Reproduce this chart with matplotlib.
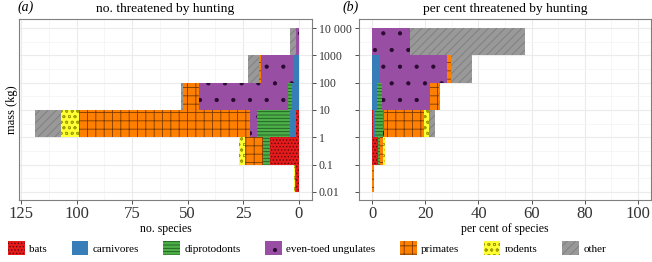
import numpy as np
import matplotlib
matplotlib.use("Agg")
import matplotlib.pyplot as plt
from matplotlib.patches import Patch

plt.rcParams['font.family'] = ['Liberation Serif', 'DejaVu Serif']
plt.rcParams['hatch.linewidth'] = 0.6

# mass bins, lower edge as log10(kg)
bins = [-2, -1, 0, 1, 2, 3]
mass_ticks = [-2, -1, 0, 1, 2, 3, 4]
mass_labels = ["0.01", "0.1", "1", "10", "100", "1000", "10 000"]

groups = ["bats", "carnivores", "diprotodonts", "even-toed ungulates",
          "primates", "rodents", "other"]

# number of species threatened by hunting, per mass bin
n_bats         = [1, 13, 1, 0, 0, 0]
n_carnivores   = [0, 0, 3, 3, 2, 0]
n_diprotodonts = [0, 3, 15, 2, 0, 0]
n_ungulates    = [0, 0, 3, 40, 15, 1]
n_primates     = [0.7, 8, 77, 7, 1, 0]
n_rodents      = [0.6, 3, 8, 0, 0, 0]
n_other        = [0, 0, 12, 1, 5, 3]

# per cent of species threatened by hunting, per mass bin
p_bats         = [0, 2.2, 0.2, 0, 0, 0]
p_carnivores   = [0, 0, 0.8, 1.9, 3, 0]
p_diprotodonts = [0, 0.8, 3.2, 1.9, 0, 0]
p_ungulates    = [0, 0, 0.3, 18, 25, 14.4]
p_primates     = [0.5, 1.2, 14.9, 3.5, 1.7, 0]
p_rodents      = [0, 0.6, 1.8, 0, 0, 0]
p_other        = [0, 0, 2.5, 0.3, 8, 43]

counts = [n_bats, n_carnivores, n_diprotodonts, n_ungulates, n_primates, n_rodents, n_other]
percents = [p_bats, p_carnivores, p_diprotodonts, p_ungulates, p_primates, p_rodents, p_other]

colors = ['#E41A1C', '#377EB8', '#4DAF4A', '#984EA3', '#FF7F00', '#FFFF33', '#999999']
hatch_cols = ['#5a0a0a', '#2a5f8a', '#1f5a1d', '#2a0a30', '#7a3a00', '#a0a000', '#7c7c7c']
hatches = ['.....', '', '-----', '.', '++', 'ooo', '////']

fig = plt.figure(figsize=(6.52, 2.62), dpi=100)
ax1 = fig.add_axes([19/652, 62/262, 293/652, 181/262])
ax2 = fig.add_axes([359/652, 62/262, 292/652, 181/262])

y = np.array(bins) + 0.5


def stack(ax, data):
    left = np.zeros(len(bins))
    for vals, c, hc, h in zip(data, colors, hatch_cols, hatches):
        vals = np.array(vals, dtype=float)
        ax.barh(y, vals, height=1.0, left=left, color=c, edgecolor=hc,
                hatch=h, linewidth=0, zorder=2)
        left += vals


stack(ax1, counts)
stack(ax2, percents)

for ax in (ax1, ax2):
    ax.set_ylim(-2.3, 4.33)
    ax.set_yticks(mass_ticks)
    ax.set_yticks(np.arange(-2, 4, 1) + 0.5, minor=True)
    ax.grid(True, which='major', color='#ebebeb', lw=0.8, zorder=0)
    ax.grid(True, which='minor', color='#f3f3f3', lw=0.5, zorder=0)
    ax.set_axisbelow(True)
    for s in ax.spines.values():
        s.set_color('#7f7f7f')
        s.set_linewidth(0.8)
    ax.tick_params(which='both', color='#7f7f7f', length=3, width=0.6)
    ax.tick_params(which='minor', length=0)
    ax.tick_params(axis='x', labelsize=12, pad=1, colors='#333333')
    ax.tick_params(axis='y', labelsize=8.5, colors='#333333')

ax1.set_xlim(126, -6)
ax1.set_xticks([125, 100, 75, 50, 25, 0])
ax1.set_xticks(np.arange(12.5, 125, 25), minor=True)
ax1.yaxis.tick_right()
ax1.set_yticklabels(mass_labels)
ax1.tick_params(axis='y', pad=2)
ax1.set_xlabel("no. species", fontsize=8.5, labelpad=1)
ax1.set_title("no. threatened by hunting", fontsize=9.7, pad=5)
ax1.text(-0.005, 1.03, "(a)", transform=ax1.transAxes, fontsize=10,
         style='italic', ha='left', va='bottom')
fig.text(12/652, 1 - 110/262, "mass (kg)", rotation=90, fontsize=9,
         ha='center', va='center')

ax2.set_xlim(-5, 105)
ax2.set_xticks([0, 20, 40, 60, 80, 100])
ax2.set_xticks(np.arange(10, 105, 20), minor=True)
ax2.set_yticklabels([])
ax2.set_xlabel("per cent of species", fontsize=8.5, labelpad=1)
ax2.set_title("per cent threatened by hunting", fontsize=9.7, pad=5)
ax2.text(-0.055, 1.03, "(b)", transform=ax2.transAxes, fontsize=10,
         style='italic', ha='left', va='bottom')

handles = [Patch(facecolor=c, edgecolor=hc, hatch=h, linewidth=0)
           for c, hc, h in zip(colors, hatch_cols, hatches)]
fig.legend(handles, groups, loc='lower center', bbox_to_anchor=(0.471, -0.01),
           ncol=7, frameon=False, fontsize=8, handlelength=1.5,
           handleheight=1.5, handletextpad=0.4, columnspacing=2.2)

fig.savefig("out.png", dpi=100)
